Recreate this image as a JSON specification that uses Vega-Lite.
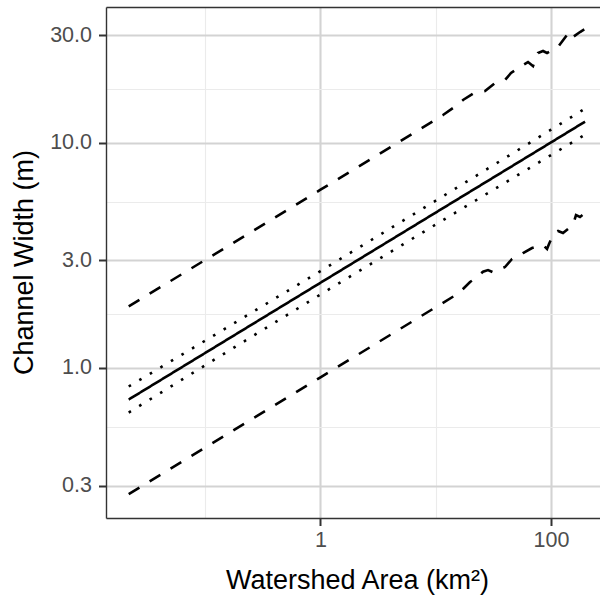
{
  "$schema": "https://vega.github.io/schema/vega-lite/v6.json",
  "width": 494,
  "height": 511,
  "autosize": {"type": "none"},
  "padding": {"left": 106, "top": 7, "right": 0, "bottom": 83},
  "background": "white",
  "config": {"view": {"stroke": null}, "font": "Liberation Sans"},
  "data": {"values": [
    {"series": "fit", "band": "fit", "area_km2": 0.02168, "width_m": 0.724},
    {"series": "fit", "band": "fit", "area_km2": 0.1, "width_m": 1.1655},
    {"series": "fit", "band": "fit", "area_km2": 1, "width_m": 2.388},
    {"series": "fit", "band": "fit", "area_km2": 10, "width_m": 4.893},
    {"series": "fit", "band": "fit", "area_km2": 100, "width_m": 10.02},
    {"series": "fit", "band": "fit", "area_km2": 197.2, "width_m": 12.386},
    {"series": "ci_upper", "band": "confidence", "area_km2": 0.02168, "width_m": 0.827},
    {"series": "ci_upper", "band": "confidence", "area_km2": 0.1, "width_m": 1.3215},
    {"series": "ci_upper", "band": "confidence", "area_km2": 1, "width_m": 2.692},
    {"series": "ci_upper", "band": "confidence", "area_km2": 10, "width_m": 5.525},
    {"series": "ci_upper", "band": "confidence", "area_km2": 100, "width_m": 11.41},
    {"series": "ci_upper", "band": "confidence", "area_km2": 197.2, "width_m": 14.16},
    {"series": "ci_lower", "band": "confidence", "area_km2": 0.02168, "width_m": 0.6336},
    {"series": "ci_lower", "band": "confidence", "area_km2": 0.1, "width_m": 1.0278},
    {"series": "ci_lower", "band": "confidence", "area_km2": 1, "width_m": 2.118},
    {"series": "ci_lower", "band": "confidence", "area_km2": 10, "width_m": 4.331},
    {"series": "ci_lower", "band": "confidence", "area_km2": 100, "width_m": 8.805},
    {"series": "ci_lower", "band": "confidence", "area_km2": 197.2, "width_m": 10.84},
    {"series": "pi_upper", "band": "prediction", "area_km2": 0.02168, "width_m": 1.874},
    {"series": "pi_upper", "band": "prediction", "area_km2": 0.1, "width_m": 3.016},
    {"series": "pi_upper", "band": "prediction", "area_km2": 1, "width_m": 6.18},
    {"series": "pi_upper", "band": "prediction", "area_km2": 10, "width_m": 12.66},
    {"series": "pi_upper", "band": "prediction", "area_km2": 11.56, "width_m": 13.26},
    {"series": "pi_upper", "band": "prediction", "area_km2": 14.11, "width_m": 14.24},
    {"series": "pi_upper", "band": "prediction", "area_km2": 17.24, "width_m": 15.46},
    {"series": "pi_upper", "band": "prediction", "area_km2": 21.47, "width_m": 16.6},
    {"series": "pi_upper", "band": "prediction", "area_km2": 26.75, "width_m": 16.94},
    {"series": "pi_upper", "band": "prediction", "area_km2": 32.67, "width_m": 18.39},
    {"series": "pi_upper", "band": "prediction", "area_km2": 39.9, "width_m": 18.96},
    {"series": "pi_upper", "band": "prediction", "area_km2": 44.97, "width_m": 20.37},
    {"series": "pi_upper", "band": "prediction", "area_km2": 50.7, "width_m": 21.22},
    {"series": "pi_upper", "band": "prediction", "area_km2": 57.15, "width_m": 22.1},
    {"series": "pi_upper", "band": "prediction", "area_km2": 63.15, "width_m": 22.79},
    {"series": "pi_upper", "band": "prediction", "area_km2": 69.8, "width_m": 21.88},
    {"series": "pi_upper", "band": "prediction", "area_km2": 77.13, "width_m": 24.99},
    {"series": "pi_upper", "band": "prediction", "area_km2": 85.22, "width_m": 25.5},
    {"series": "pi_upper", "band": "prediction", "area_km2": 92.35, "width_m": 24.99},
    {"series": "pi_upper", "band": "prediction", "area_km2": 115.0, "width_m": 26.57},
    {"series": "pi_upper", "band": "prediction", "area_km2": 137.6, "width_m": 30.04},
    {"series": "pi_upper", "band": "prediction", "area_km2": 140.4, "width_m": 30.97},
    {"series": "pi_upper", "band": "prediction", "area_km2": 155.2, "width_m": 29.42},
    {"series": "pi_upper", "band": "prediction", "area_km2": 178.5, "width_m": 30.97},
    {"series": "pi_upper", "band": "prediction", "area_km2": 197.2, "width_m": 31.93},
    {"series": "pi_lower", "band": "prediction", "area_km2": 0.02168, "width_m": 0.2753},
    {"series": "pi_lower", "band": "prediction", "area_km2": 0.1, "width_m": 0.4431},
    {"series": "pi_lower", "band": "prediction", "area_km2": 1, "width_m": 0.9078},
    {"series": "pi_lower", "band": "prediction", "area_km2": 10, "width_m": 1.86},
    {"series": "pi_lower", "band": "prediction", "area_km2": 15.85, "width_m": 2.147},
    {"series": "pi_lower", "band": "prediction", "area_km2": 19.83, "width_m": 2.406},
    {"series": "pi_lower", "band": "prediction", "area_km2": 22.35, "width_m": 2.506},
    {"series": "pi_lower", "band": "prediction", "area_km2": 25.7, "width_m": 2.673},
    {"series": "pi_lower", "band": "prediction", "area_km2": 28.4, "width_m": 2.719},
    {"series": "pi_lower", "band": "prediction", "area_km2": 31.38, "width_m": 2.657},
    {"series": "pi_lower", "band": "prediction", "area_km2": 39.9, "width_m": 2.804},
    {"series": "pi_lower", "band": "prediction", "area_km2": 45.88, "width_m": 3.044},
    {"series": "pi_lower", "band": "prediction", "area_km2": 51.72, "width_m": 3.139},
    {"series": "pi_lower", "band": "prediction", "area_km2": 57.15, "width_m": 3.236},
    {"series": "pi_lower", "band": "prediction", "area_km2": 68.41, "width_m": 3.406},
    {"series": "pi_lower", "band": "prediction", "area_km2": 85.22, "width_m": 3.512},
    {"series": "pi_lower", "band": "prediction", "area_km2": 92.35, "width_m": 3.371},
    {"series": "pi_lower", "band": "prediction", "area_km2": 96.07, "width_m": 3.548},
    {"series": "pi_lower", "band": "prediction", "area_km2": 106.2, "width_m": 3.971},
    {"series": "pi_lower", "band": "prediction", "area_km2": 115.0, "width_m": 4.052},
    {"series": "pi_lower", "band": "prediction", "area_km2": 127.1, "width_m": 3.971},
    {"series": "pi_lower", "band": "prediction", "area_km2": 155.2, "width_m": 4.308},
    {"series": "pi_lower", "band": "prediction", "area_km2": 164.8, "width_m": 4.772},
    {"series": "pi_lower", "band": "prediction", "area_km2": 178.5, "width_m": 4.675},
    {"series": "pi_lower", "band": "prediction", "area_km2": 197.2, "width_m": 4.869}
  ]},
  "layer": [
    {
      "mark": {"type": "line", "stroke": "black", "strokeWidth": 2.6, "strokeCap": "butt"},
      "encoding": {
        "x": {
          "field": "area_km2", "type": "quantitative",
          "scale": {"type": "log", "domain": [0.01377, 266.1], "nice": false},
          "axis": {
            "orient": "bottom", "values": [1, 100], "format": "~g",
            "grid": true, "gridColor": "#d3d3d3", "gridWidth": 2.1,
            "domain": true, "domainColor": "#333333", "domainWidth": 1.4,
            "ticks": true, "tickSize": 7.5, "tickWidth": 2, "tickColor": "#333333",
            "labelFontSize": 21.5, "labelColor": "#4d4d4d", "labelPadding": 4,
            "labelFlush": false, "labelOverlap": false, "labelBound": false,
            "title": "Watershed Area (km²)", "titleFontSize": 27, "titleFontWeight": "normal",
            "titleColor": "black", "titleX": 251, "titleY": 70, "titleBaseline": "alphabetic", "titleAlign": "center"
          }
        },
        "y": {
          "field": "width_m", "type": "quantitative",
          "scale": {"type": "log", "domain": [0.2157, 39.99], "nice": false},
          "axis": {
            "orient": "left", "values": [0.3, 1, 3, 10, 30], "format": ".1f",
            "grid": true, "gridColor": "#d3d3d3", "gridWidth": 2.1,
            "domain": true, "domainColor": "#333333", "domainWidth": 1.4,
            "ticks": true, "tickSize": 7.5, "tickWidth": 2, "tickColor": "#333333",
            "labelFontSize": 21.5, "labelColor": "#4d4d4d", "labelPadding": 7,
            "labelOverlap": false, "labelBound": false,
            "title": "Channel Width (m)", "titleFontSize": 27, "titleFontWeight": "normal",
            "titleColor": "black", "titleX": -82, "titleY": 255, "titleAngle": -90,
            "titleBaseline": "middle", "titleAlign": "center"
          }
        },
        "detail": {"field": "series", "type": "nominal"},
        "strokeDash": {
          "field": "band", "type": "nominal",
          "scale": {"domain": ["fit", "confidence", "prediction"], "range": [[1, 0], [2.6, 9.7], [12.5, 12]]},
          "legend": null
        }
      }
    },
    {
      "mark": {"type": "line", "opacity": 0},
      "encoding": {
        "x": {
          "field": "area_km2", "type": "quantitative",
          "scale": {"type": "log", "domain": [0.01377, 266.1], "nice": false},
          "axis": {
            "orient": "top", "values": [0.1, 10], "grid": true, "gridColor": "#ebebeb", "gridWidth": 1.1,
            "labels": false, "ticks": false, "domain": true, "domainColor": "#333333", "domainWidth": 1.4,
            "title": null
          }
        },
        "y": {
          "field": "width_m", "type": "quantitative",
          "scale": {"type": "log", "domain": [0.2157, 39.99], "nice": false},
          "axis": {
            "orient": "right", "values": [0.5477, 1.732, 5.477, 17.32], "grid": true, "gridColor": "#ebebeb", "gridWidth": 1.1,
            "labels": false, "ticks": false, "domain": false, "title": null
          }
        },
        "detail": {"field": "series", "type": "nominal"}
      }
    }
  ],
  "resolve": {"axis": {"x": "independent", "y": "independent"}}
}
